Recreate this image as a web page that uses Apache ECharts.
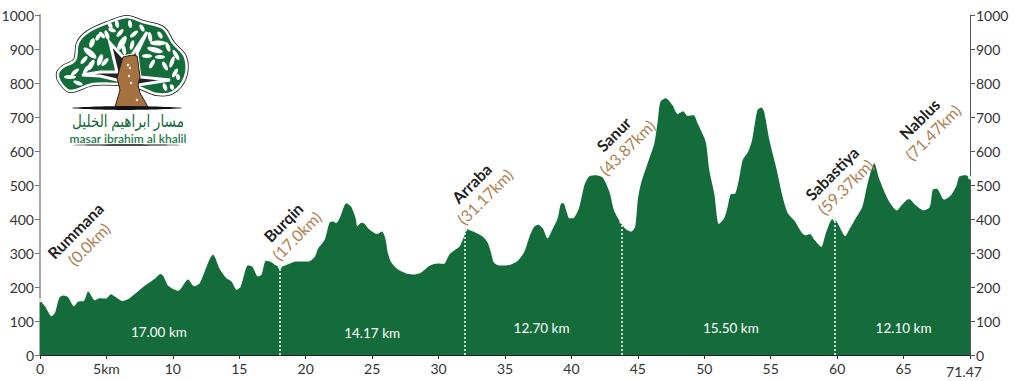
<!DOCTYPE html>
<html><head><meta charset="utf-8">
<style>html,body{margin:0;padding:0;background:#fff}#c{width:1024px;height:381px}</style>
<script src="https://cdn.jsdelivr.net/npm/echarts@6/dist/echarts.min.js"></script></head>
<body><div id="c"></div><script>
const profileKm=[0,.38,.88,1.13,1.45,1.75,2.08,2.56,2.88,3.3,3.63,4.13,4.5,4.96,5.34,5.64,6.2,6.77,7.77,8.65,9.07,9.3,9.65,10.4,11.15,11.6,12.03,13.03,13.53,14.03,14.4,14.8,15.1,15.66,16,16.4,16.67,17,17.3,18.05,18.55,19.3,20.2,20.7,20.93,21.43,21.8,22.05,22.3,22.56,23.06,23.43,23.76,23.88,24.2,24.43,24.69,25.2,25.39,25.74,25.99,26.19,26.44,26.9,27.57,28.2,28.7,29.3,29.95,30.4,30.8,31.2,31.58,31.96,32.13,32.6,33.33,33.7,33.96,34.16,34.6,35.34,35.96,36.46,36.84,37.2,37.5,37.85,38.2,38.6,38.97,39.2,39.4,39.6,39.85,40.2,40.6,40.98,41.35,41.85,42.35,42.86,43.2,43.7,44.1,44.5,44.8,45,45.24,45.74,46.24,46.5,46.7,47.1,47.6,48,48.4,48.75,49.2,49.5,50.1,50.37,50.75,51.1,51.5,51.76,52,52.3,52.6,52.9,53.3,53.6,54,54.3,54.5,54.9,55.4,55.9,56.3,56.8,57.3,57.6,57.95,58.3,58.8,59.15,59.65,59.9,60.3,60.6,60.9,61.4,61.9,62.3,62.8,63.15,63.9,64.5,64.86,65.4,65.9,66.5,66.97,67.2,67.5,68.05,68.55,68.97,69.2,69.67,70];
const profileAlt=[161,143,114,124,168,175,171,143,157,159,187,161,167,166,179,172,159,168,200,224,238,231,204,189,222,202,212,295,253,226,217,192,200,264,259,231,236,277,275,259,265,275,275,290,313,339,390,393,388,402,446,435,402,379,389,386,373,358,356,363,343,299,272,253,240,237,243,262,269,268,295,308,319,353,370,363,348,330,299,272,263,265,277,304,348,377,383,372,343,372,402,444,446,426,402,404,436,500,526,529,522,480,426,390,370,363,378,457,505,564,623,690,745,755,735,708,717,703,705,681,628,545,475,385,402,436,473,474,515,574,598,632,720,728,716,632,553,465,416,394,362,352,356,338,318,358,400,396,368,350,368,402,436,505,564,520,452,425,441,459,441,425,435,486,489,457,469,497,525,529,522];
const stopNames=['Rummana','Burqin','Arraba','Sanur','Sabastiya','Nablus'];
const stopDistances=['(0.0km)','(17.0km)','(31.17km)','(43.87km)','(59.37km)','(71.47km)'];
const stopKm=[0,18.05,32,43.75,59.8,70];
const stopAlt=[161,259,368,392,400,522];
const sectionKm=[8.95,25,37.75,52,65];
const sectionAlt=[68,65,80,80,80];
const sectionLabels=['17.00 km','14.17 km','12.70 km','15.50 km','12.10 km'];
const xLabels={0:'0',5:'5km',70:'{m|71.47}'};
const labelShift=[[42,-63],[10,-38],[13,-40],[-1,-81],[4,-39],[-44,-52]];
const FONT='Lato,"Open Sans",sans-serif';
const GREEN='#156C3B';

const leaves=[[70,77,6,2,0],[75,72,5,2,-40],[78,83,5,2,20],[86,70,5,2,-60],[91,65,6,2.5,-60],[84,60,5,2,-50],[90,53,8,3,40],[100,60,6,2.5,-70],[105,62,5,2,-50],[92,43,5,2.5,-70],[98,37,4,2,-60],[102,35,4,2,50],[110,25,4,2,60],[117,24,4,2,80],[120,33,5,2,-50],[130,24,4,2,80],[142,28,4,2,60],[122,43,8,3,-60],[132,45,5,2,-75],[124,50,5,2,80],[107,35,5,2,70],[112,30,4,2,20],[134,34,5,2,-40],[150,37,5,2,80],[160,35,4,2,60],[168,47,5,2,70],[158,43,8,2.5,0],[155,50,8,2.5,15],[147,56,5,2,0],[160,57,5,2,0],[176,55,6,2,60],[172,62,6,2,-70],[165,66,5,2,60],[152,64,5,2,-60],[175,73,5,2,-60],[178,77,3,2,80],[165,87,4,2,70],[172,87,3,2,70]];
const crown=[[58,73],[63,67],[75,60],[78,43],[88,32],[110,22],[127,17],[143,22],[163,28],[173,43],[185,57],[185,77],[173,92],[157,94],[138,87],[118,84],[93,84],[70,91],[60,82]];
const branches=[[82,75],[100,72],[117,72],[110,43],[123,57],[132,55],[147,32],[137,53],[138,62],[140,77],[170,80],[138,85],[117,80],[100,76]];
const trunk=[[123,57],[132,55],[137,56],[138,62],[140,77],[138,85],[140,93],[148,107],[115,107],[120,90],[117,78]];
const logo=[
 {type:'polygon',shape:{smooth:.35,points:crown},style:{fill:'#111',stroke:'#111',lineWidth:4}},
 {type:'polygon',shape:{smooth:.35,points:crown},style:{fill:GREEN,stroke:'#fff',lineWidth:2.5}},
 ...leaves.map(l=>({type:'ellipse',shape:{cx:l[0],cy:l[1],rx:l[2],ry:l[3]},rotation:-l[4]*Math.PI/180,originX:l[0],originY:l[1],style:{fill:'#fff'}})),
 {type:'polygon',shape:{points:branches},style:{fill:'#222',stroke:'#fff',lineWidth:3}},
 {type:'polygon',shape:{points:trunk},style:{fill:'#A5713F',stroke:'#222',lineWidth:1}},
 ...[[128,65],[130,68],[131,83],[137,100],[129,76]].map(p=>({type:'circle',shape:{cx:p[0],cy:p[1],r:1.2},style:{fill:'#fff'}})),
 {type:'polygon',shape:{smooth:.3,points:[[71,108],[125,106],[183,108],[125,110]]},style:{fill:'#111'}},
 {type:'text',x:128,y:121,scaleX:.8,style:{text:'مسار ابراهيم الخليل',fill:GREEN,font:'17px "Noto Sans","DejaVu Sans",sans-serif',align:'center',verticalAlign:'middle'}},
 {type:'text',style:{x:128,y:138,text:'masar ibrahim al khalil',fill:'#1B7B45',font:'600 12px Lato,sans-serif',align:'center',verticalAlign:'middle'}},
 {type:'polygon',shape:{smooth:.3,points:[[71,145],[125,144.2],[183,145],[125,145.8]]},style:{fill:'#111'}}
];

const chart=echarts.init(document.getElementById('c'),null,{renderer:'svg'});
const yAxisBase={type:'value',min:0,max:1000,interval:100,splitLine:{show:false},
 axisLabel:{fontFamily:FONT,fontSize:14,color:'#333',margin:6,formatter:v=>String(v)}};
const S=Math.SQRT1_2;
chart.setOption({animation:false,backgroundColor:'#fff',
 grid:{left:40,right:54,top:15,bottom:26,containLabel:false,outerBoundsMode:'none'},
 xAxis:{type:'value',min:0,max:70,interval:5,splitLine:{show:false},
  axisLine:{show:true,onZero:false,lineStyle:{color:'#222',width:1}},axisTick:{show:true,length:4,lineStyle:{color:'#333'}},
  axisLabel:{fontFamily:FONT,fontSize:14,color:'#333',margin:6,showMinLabel:true,showMaxLabel:true,formatter:v=>xLabels[v]||String(v),rich:{m:{fontFamily:FONT,fontSize:14,color:'#333',padding:[3,12,0,0]}}}},
 yAxis:[{...yAxisBase,position:'left',axisLine:{show:true,lineStyle:{color:'#a8a8a8',width:2}},axisTick:{show:true,length:5,lineStyle:{color:'#777'}}},
  {...yAxisBase,position:'right',axisLine:{show:true,lineStyle:{color:'#555',width:1}},axisTick:{show:true,length:5,lineStyle:{color:'#555'}}}],
 graphic:logo,
 series:[
 {type:'line',data:profileKm.map((k,i)=>[k,profileAlt[i]]),smooth:.25,symbol:'none',lineStyle:{width:0},areaStyle:{color:GREEN,opacity:1},z:2,
  markLine:{silent:true,symbol:'none',label:{show:false},animation:false,lineStyle:{color:'#fff',type:[2,2],width:1.5,opacity:1},
   data:[1,2,3,4].map(i=>[{coord:[stopKm[i],0]},{coord:[stopKm[i],stopAlt[i]]}])}},
 {type:'scatter',data:stopKm.map((k,i)=>[k,stopAlt[i]]),symbolSize:4,itemStyle:{color:'#e8efe9',opacity:1},z:4,
  label:{show:true,rotate:45,position:'inside',align:'center',verticalAlign:'middle',lineHeight:19,
   formatter:p=>`{a|${stopNames[p.dataIndex]}}\n{b|${stopDistances[p.dataIndex]}}`,
   rich:{a:{fontFamily:FONT,fontSize:16,fontWeight:700,color:'#231F20'},b:{fontFamily:FONT,fontSize:16,color:'#B0804F'}}},
  labelLayout:p=>{const [X,Y]=labelShift[p.dataIndex];return {dx:(X-Y)*S,dy:(X+Y)*S};}},
 {type:'scatter',data:sectionKm.map((k,i)=>[k,sectionAlt[i]]),symbolSize:0,itemStyle:{opacity:1},z:5,
  label:{show:true,position:'inside',color:'#fff',fontFamily:FONT,fontSize:13.5,formatter:p=>sectionLabels[p.dataIndex]}}
 ]});
</script></body></html>
